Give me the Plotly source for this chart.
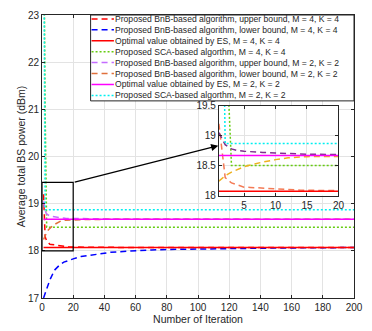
import plotly.graph_objects as go

# ---------------- data ----------------
ub44_x = [1, 2, 3, 4, 5, 6, 7, 8, 10, 12, 14, 17, 20, 25, 30, 40, 60, 200]
ub44_y = [19.2, 18.3, 18.21, 18.17, 18.14, 18.135, 18.13, 18.12, 18.105, 18.095,
          18.09, 18.085, 18.08, 18.078, 18.075, 18.072, 18.07, 18.07]

lb44_x = [1, 2, 3, 5, 8, 11, 14, 17, 20, 25, 30, 36, 44, 52, 61, 70, 82, 98, 120, 150, 200]
lb44_y = [17.0, 17.1, 17.18, 17.38, 17.59, 17.69, 17.76, 17.8, 17.83, 17.88, 17.91,
          17.93, 17.97, 17.99, 18.0, 18.02, 18.03, 18.04, 18.05, 18.06, 18.07]

es44_x = [1, 200]
es44_y = [18.07, 18.07]

sca44_x = [1, 2, 3, 200]
sca44_y = [26.0, 21.0, 18.5, 18.5]

ub22_x = [1, 2, 3, 4, 5, 6, 8, 10, 12, 15, 20, 30, 50, 200]
ub22_y = [19.05, 18.85, 18.78, 18.75, 18.74, 18.73, 18.72, 18.71, 18.70, 18.69,
          18.685, 18.68, 18.675, 18.67]

lb22_x = [1, 2, 3, 4, 5, 6, 7, 8, 10, 12, 15, 20, 30, 50, 200]
lb22_y = [18.24, 18.33, 18.39, 18.44, 18.48, 18.51, 18.54, 18.56, 18.60, 18.63,
          18.65, 18.66, 18.665, 18.67, 18.67]

es22_x = [1, 200]
es22_y = [18.67, 18.67]

sca22_x = [1, 2, 200]
sca22_y = [26.0, 18.87, 18.87]

labels = [
    "Proposed BnB-based algorithm, upper bound, M = 4, K = 4",
    "Proposed BnB-based algorithm, lower bound, M = 4, K = 4",
    "Optimal value obtained by ES, M = 4, K = 4",
    "Proposed SCA-based algorthm, M = 4, K = 4",
    "Proposed BnB-based algorithm, upper bound, M = 2, K = 2",
    "Proposed BnB-based algorithm, lower bound, M = 2, K = 2",
    "Optimal value obtained by ES, M = 2, K = 2",
    "Proposed SCA-based algorthm, M = 2, K = 2",
]

x_ticks = [0, 20, 40, 60, 80, 100, 120, 140, 160, 180, 200]
y_ticks = [17, 18, 19, 20, 21, 22, 23]
inset_x_ticks = [5, 10, 15, 20]
inset_y_ticks = [18, 18.5, 19, 19.5]

# ---------------- styles ----------------
DASH = "6px,4px"
DOT = "2px,2px"
series = [
    (ub44_x, ub44_y, "#FF0000", DASH, "#F47A55"),
    (lb44_x, lb44_y, "#0000FF", DASH, "#0000FF"),
    (es44_x, es44_y, "#FF0000", "solid", "#FF0000"),
    (sca44_x, sca44_y, "#66CC11", DOT, "#66CC11"),
    (ub22_x, ub22_y, "#C46CFF", DASH, "#7E2F8E"),
    (lb22_x, lb22_y, "#E0703C", DASH, "#EDB120"),
    (es22_x, es22_y, "#FF00FF", "solid", "#FF00FF"),
    (sca22_x, sca22_y, "#00F0F0", DOT, "#00F0F0"),
]

W, H = 372, 331
L, R, T, B = 42, 9, 13, 28
PW, PH = W - L - R, H - T - B


def px2paper(px, py):
    return (px - L) / PW, (H - B - py) / PH


fig = go.Figure()

# main plot traces
for (xs, ys, col, dash, _c2), lab in zip(series, labels):
    fig.add_trace(go.Scatter(x=xs, y=ys, mode="lines", name=lab,
                             line=dict(color=col, dash=dash, width=1.5),
                             xaxis="x", yaxis="y", showlegend=False))

# inset traces
for (xs, ys, _c, dash, col2), lab in zip(series, labels):
    fig.add_trace(go.Scatter(x=xs, y=ys, mode="lines", name=lab,
                             line=dict(color=col2, dash=dash, width=1.5),
                             xaxis="x2", yaxis="y2", showlegend=False))

axis_common = dict(showline=True, linecolor="#262626", linewidth=1, mirror="ticks",
                   ticks="inside", ticklen=3, tickcolor="#262626",
                   showgrid=True, gridcolor="#E3E3E3", gridwidth=1, zeroline=False,
                   tickfont=dict(family="Liberation Sans, Arial", size=10, color="#262626"))

ix0, iy1 = px2paper(224, 106)
ix1, iy0 = px2paper(347, 198)

fig.update_layout(
    width=W, height=H,
    margin=dict(l=L, r=R, t=T, b=B),
    paper_bgcolor="white", plot_bgcolor="white",
    font=dict(family="Liberation Sans, Arial", color="#262626"),
    xaxis=dict(domain=[0, 1], range=[0, 200], tickvals=x_ticks,
               title=dict(text="Number of Iteration", standoff=2,
                          font=dict(size=10.5, color="#262626")),
               **axis_common),
    yaxis=dict(domain=[0, 1], range=[17, 23], tickvals=y_ticks,
               title=dict(text="Average total BS power (dBm)", standoff=0,
                          font=dict(size=10.5, color="#262626")),
               **axis_common),
    xaxis2=dict(domain=[ix0, ix1], range=[1, 20], tickvals=inset_x_ticks,
                anchor="y2", **axis_common),
    yaxis2=dict(domain=[iy0, iy1], range=[17.9995, 19.5005], tickvals=inset_y_ticks,
                ticktext=["18", "18.5", "19", "19.5"],
                anchor="x2", **axis_common),
)

# zoom rectangle
fig.add_shape(type="rect", xref="x", yref="y", x0=0, x1=20, y0=18, y1=19.45,
              line=dict(color="black", width=1.2), layer="above")

# arrow from rectangle to inset
fig.add_annotation(xref="x", yref="y", axref="x", ayref="y",
                   x=113, y=20.23, ax=20, ay=19.45, text="",
                   showarrow=True, arrowhead=2, arrowsize=1.2, arrowwidth=1.2,
                   arrowcolor="black", standoff=0, startstandoff=0)

# manual legend (compact, like the reference)
lx0, ly1 = px2paper(92, 13)
lx1, ly0 = px2paper(363, 101)
fig.add_shape(type="rect", xref="paper", yref="paper", x0=lx0, x1=lx1, y0=ly0, y1=ly1,
              line=dict(color="#262626", width=1), fillcolor="white", layer="above")
for i, ((_xs, _ys, col, dash, _c2), lab) in enumerate(zip(series, labels)):
    cy = 17.0 + 11.2 * i
    sx0, sy = px2paper(93, cy)
    sx1, _ = px2paper(116, cy)
    fig.add_shape(type="line", xref="paper", yref="paper", x0=sx0, x1=sx1, y0=sy, y1=sy,
                  line=dict(color=col, dash=dash, width=1.5), layer="above")
    tx, _ = px2paper(117, cy)
    fig.add_annotation(xref="paper", yref="paper", x=tx, y=sy, text=lab,
                       showarrow=False, xanchor="left", yanchor="middle",
                       borderpad=0, xshift=-1,
                       font=dict(family="Liberation Sans, Arial", size=8.6, color="#262626"))

fig.write_html("out.html", config={"displayModeBar": False})
